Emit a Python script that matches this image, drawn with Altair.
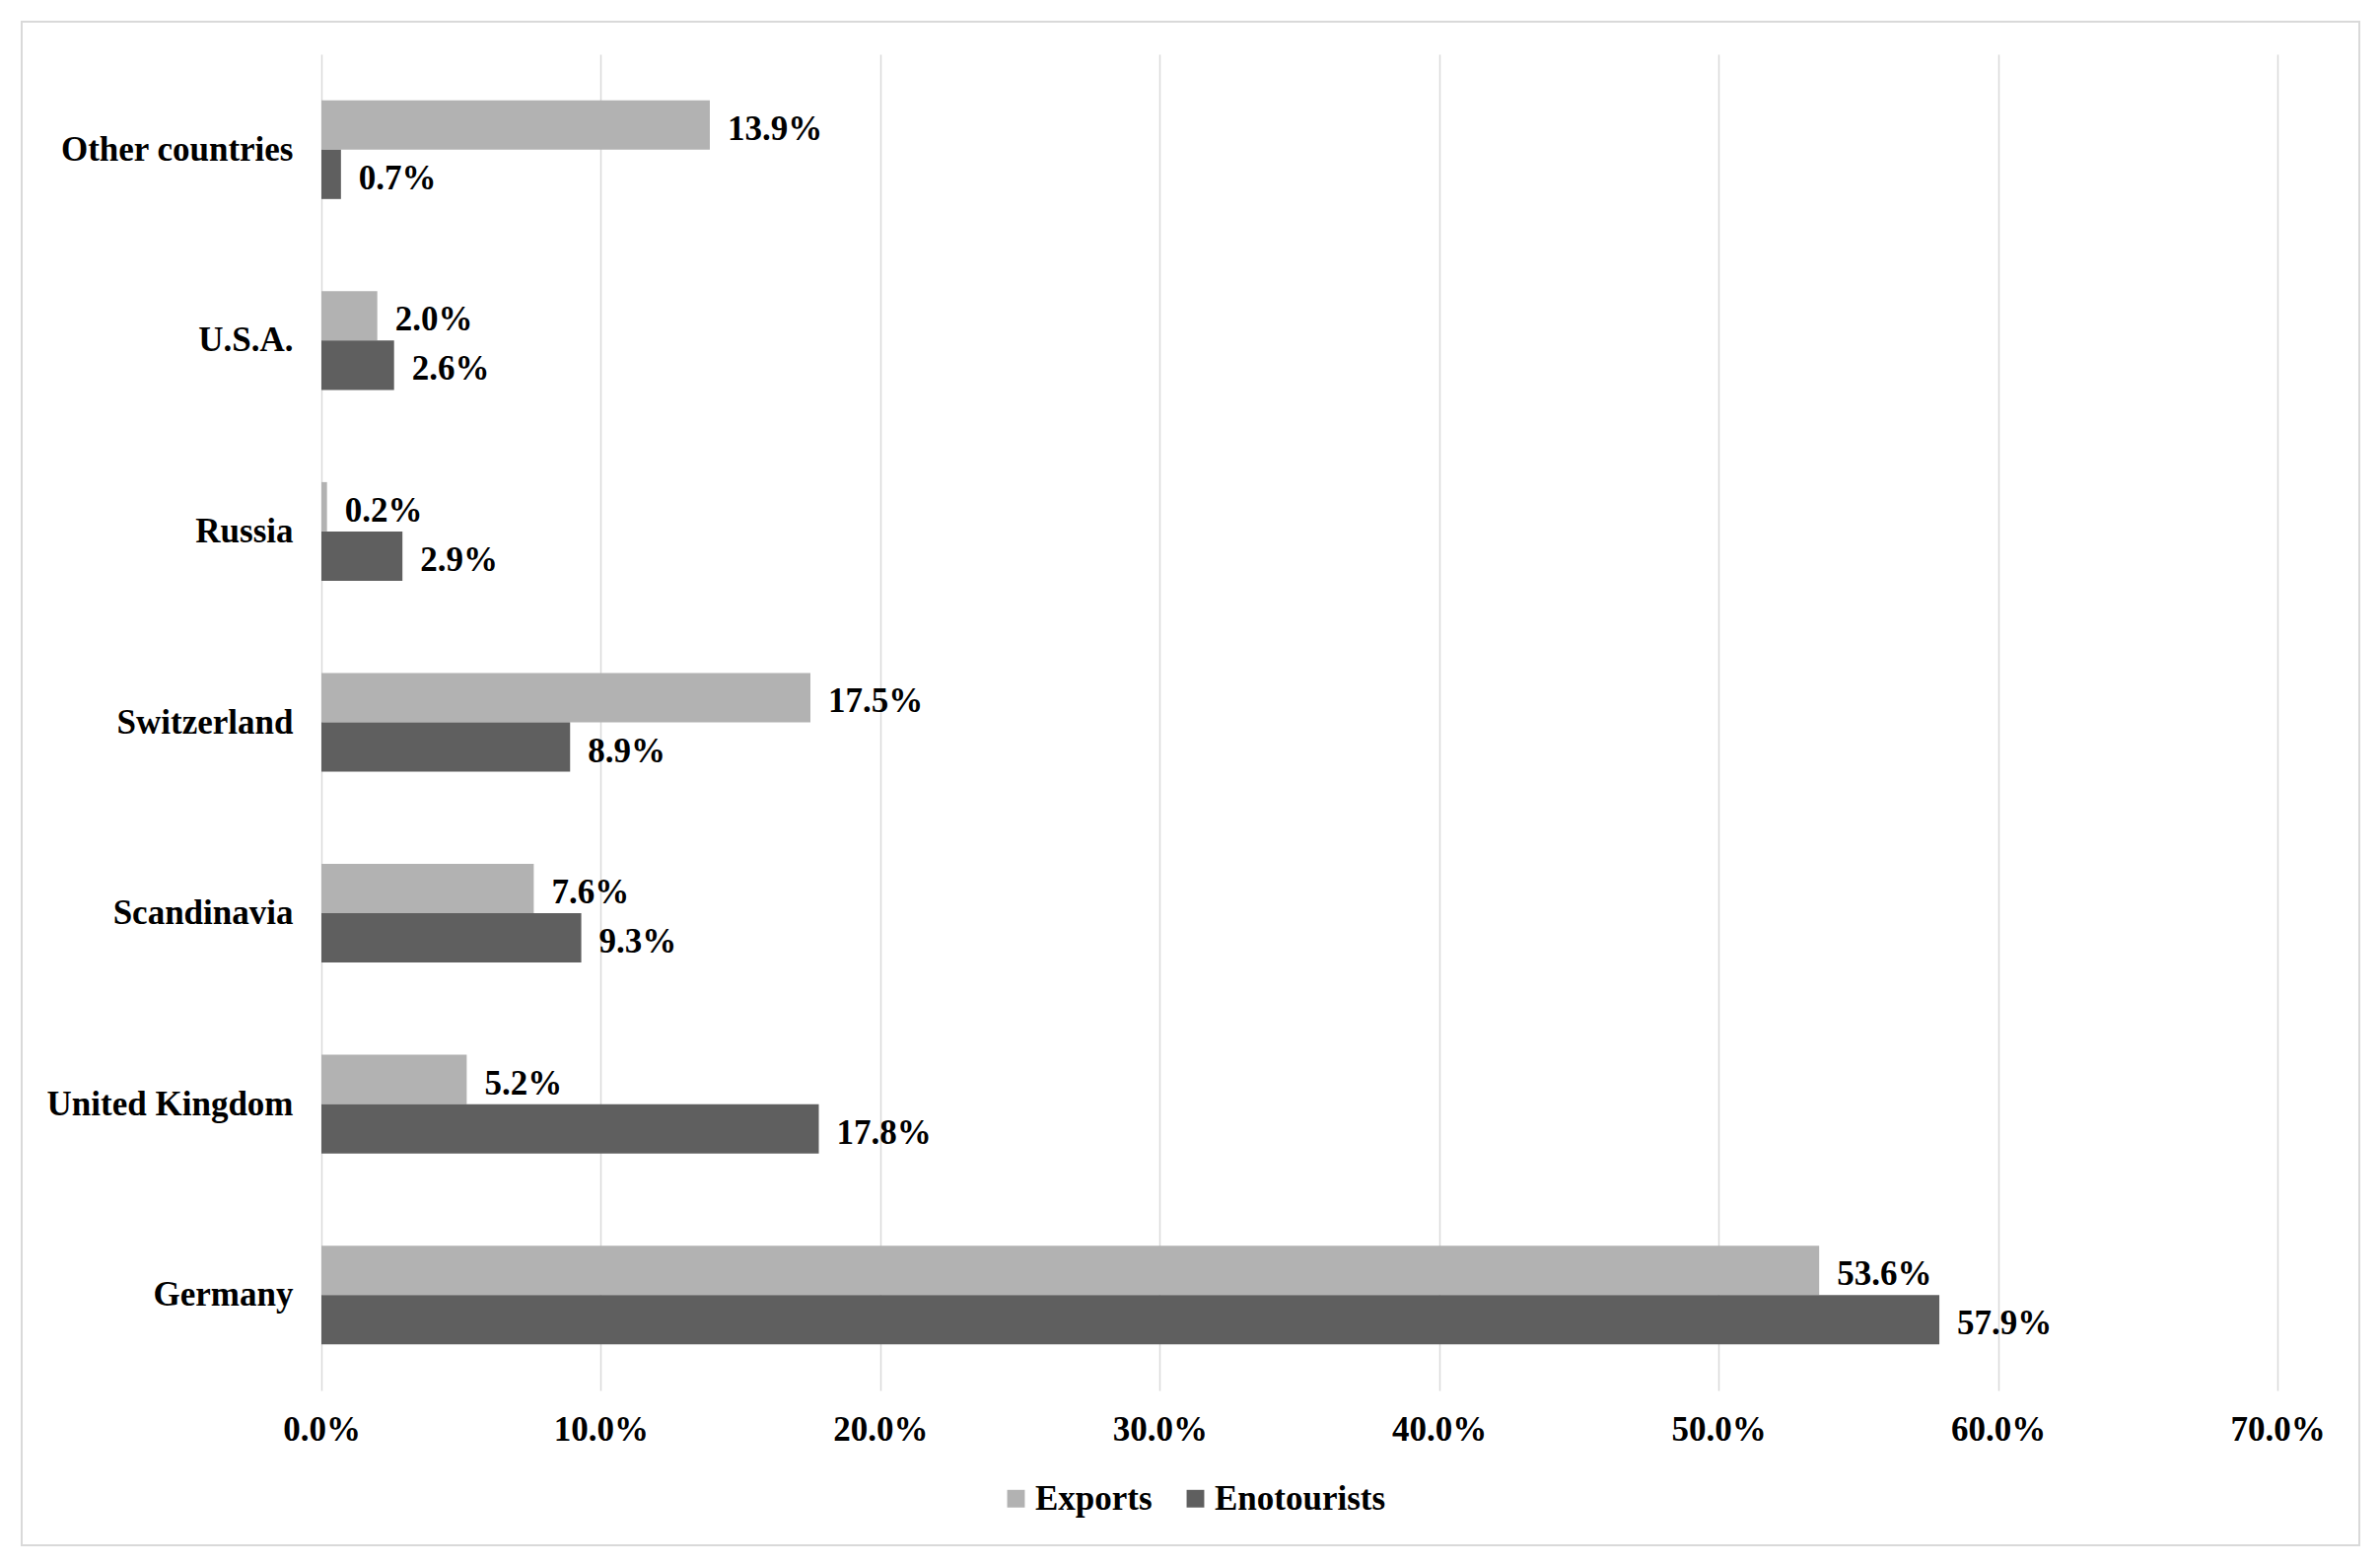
import altair as alt
import pandas as pd

categories = ["Other countries", "U.S.A.", "Russia", "Switzerland", "Scandinavia", "United Kingdom", "Germany"]
series_names = ["Exports", "Enotourists"]
exports = [13.9, 2.0, 0.2, 17.5, 7.6, 5.2, 53.6]
enotourists = [0.7, 2.6, 2.9, 8.9, 9.3, 17.8, 57.9]
x_ticks = [0.0, 0.1, 0.2, 0.3, 0.4, 0.5, 0.6, 0.7]
colors = ["#b2b2b2", "#5f5f5f"]

rows = []
for c, e, t in zip(categories, exports, enotourists):
    rows.append({"country": c, "series": "Exports", "value": e / 100})
    rows.append({"country": c, "series": "Enotourists", "value": t / 100})
df = pd.DataFrame(rows)

FONT = "Liberation Serif"
FS = 35

x_enc = alt.X("value:Q",
              scale=alt.Scale(domain=[0, 0.7], nice=False),
              axis=alt.Axis(values=x_ticks, format=".1%", title=None, grid=True,
                            gridColor="#d9d9d9", gridWidth=1.5, domain=False, ticks=False,
                            labelFlush=False, labelLimit=0,
                            labelPadding=22, labelFont=FONT, labelFontSize=FS,
                            labelFontWeight="bold", labelColor="black"))
y_enc = alt.Y("country:N", sort=categories,
              scale=alt.Scale(paddingInner=0.483, paddingOuter=0.2415),
              axis=alt.Axis(title=None, grid=False, domain=False, ticks=False,
                            labelLimit=0,
                            labelPadding=29, labelFont=FONT, labelFontSize=FS,
                            labelFontWeight="bold", labelColor="black"))
yoff = alt.YOffset("series:N", sort=series_names)

base = alt.Chart(df)

bars = base.mark_bar().encode(
    x=x_enc, y=y_enc, yOffset=yoff,
    color=alt.Color("series:N",
                    scale=alt.Scale(domain=series_names, range=colors),
                    legend=alt.Legend(title=None, orient="none", direction="horizontal",
                                      legendX=687, legendY=1447,
                                      symbolType="square", symbolSize=320,
                                      symbolStrokeWidth=0, labelOffset=2,
                                      columnPadding=26, labelLimit=0,
                                      labelFont=FONT, labelFontSize=FS,
                                      labelFontWeight="bold", labelColor="black")),
)

labels = base.mark_text(align="left", baseline="middle", dx=18, dy=4, font=FONT,
                        fontSize=FS, fontWeight="bold", color="black").encode(
    x="value:Q", y=alt.Y("country:N", sort=categories), yOffset=yoff,
    text=alt.Text("value:Q", format=".1%"),
)

border = alt.Chart(pd.DataFrame({"k": [0]})).mark_rect(
    fillOpacity=0, stroke="#d9d9d9", strokeWidth=2
).encode(
    x=alt.value(22 - 326), x2=alt.value(2393 - 326),
    y=alt.value(22 - 55), y2=alt.value(1567 - 55),
)

chart = alt.layer(border, bars, labels).properties(
    width=1984, height=1355,
    autosize=alt.AutoSizeParams(type="none"),
    padding={"left": 318, "top": 47, "right": 90, "bottom": 160},
    background="white",
).configure_view(stroke=None)

chart.save("out.html", embed_options={"renderer": "svg", "actions": False})
